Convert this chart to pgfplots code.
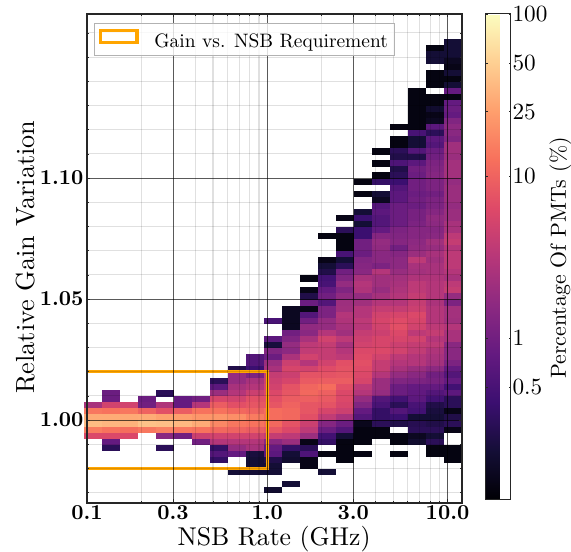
\documentclass[border=0pt]{standalone}
\usepackage{pgfplots}
\usepackage{graphicx}
\pgfplotsset{compat=1.18}
\pgfdeclareplotmark{cell}{\pgfpathrectangle{\pgfpoint{-9.15bp}{-3.15bp}}{\pgfpoint{18.3bp}{6.3bp}}\pgfusepathqfill}
\pgfplotsset{cell/.style={forget plot,scatter,only marks,mark=cell,scatter src=explicit,
  scatter/use mapped color={draw=none,fill=mapped color}}}
\newcommand{\cells}[2]{\addplot[cell] table[x expr=#1,y=y,meta expr=log10(\thisrow{m}),row sep=\\]{y m\\#2};}
\newcommand{\tb}[1]{\scalebox{2.14}{\bfseries #1}}
\newcommand{\tc}[1]{\scalebox{2.33}{#1}}
\begin{document}
\begin{tikzpicture}
\useasboundingbox (0,0) rectangle (571bp,552bp);
\begin{axis}[
  axis on top,clip mode=individual,
  at={(87bp,49bp)},anchor=south west,scale only axis,width=375bp,height=489bp,
  xmode=log,log basis x=10,xmin=0.1,xmax=12.03,ymin=0.9657,ymax=1.1678,
  xtick={0.1,0.3,1,3,10},xticklabels={\tb{0.1},\tb{0.3},\tb{1.0},\tb{3.0},\tb{10.0}},
  minor xtick={0.2,0.4,0.5,0.6,0.7,0.8,0.9,2,4,5,6,7,8,9},
  ytick={1,1.05,1.1},yticklabels={\tb{1.00},\tb{1.05},\tb{1.10}},
  minor ytick={0.97,0.98,0.99,1.01,1.02,1.03,1.04,1.06,1.07,1.08,1.09,1.11,1.12,1.13,1.14,1.15,1.16},
  grid=both,
  major grid style={black,opacity=0.65,line width=1bp},
  minor grid style={black,opacity=0.12,line width=1.1bp},
  axis line style={black!85,line width=1.4bp},
  tick style={black!85,line width=0.6bp},major tick length=3.5bp,minor tick length=2bp,
  tick align=inside,
  xticklabel style={yshift=1bp},
  xlabel={\scalebox{2.58}{NSB Rate (GHz)}},ylabel={\scalebox{2.63}{Relative Gain Variation}},
  every axis x label/.style={at={(axis description cs:0.499,-0.0745)},anchor=center},
  every axis y label/.style={at={(axis description cs:-0.165,0.503)},rotate=90,anchor=center},
  colormap={magma}{rgb255=(0,0,4) rgb255=(20,14,54) rgb255=(59,15,112) rgb255=(100,26,128)
    rgb255=(140,41,129) rgb255=(183,55,121) rgb255=(222,73,104) rgb255=(247,112,92)
    rgb255=(254,159,109) rgb255=(254,207,146) rgb255=(252,253,191)},
  point meta min=-1,point meta max=2,
  colorbar,
  colorbar style={
    at={(1.0627,1)},anchor=north west,width=25bp,height=486bp,scale only axis,
    ytick={-0.30103,0,1,1.39794,1.69897,2},yticklabels={\tc{0.5},\tc{1},\tc{10},\tc{25},\tc{50},\tc{100}},
    yticklabel pos=right,
    tick align=inside,major tick length=2bp,
    axis line style={black!85,line width=1bp},
    tick style={black!85,line width=0.5bp},
    yticklabel style={xshift=-1.5bp},
    ylabel={\scalebox{2.19}{Percentage Of PMTs (\%)}},
    every axis y label/.style={at={(axis description cs:3.0,0.498)},rotate=90,anchor=center},
  },
  legend style={at={(0.0187,0.9806)},anchor=north west,draw=black!30,line width=0.7bp,
    fill=white,fill opacity=0.8,draw opacity=1,text opacity=1,
    inner xsep=4.5bp,inner ysep=5bp,column sep=13.5bp},
  legend image code/.code={\draw[#1,line width=3.6bp] (0bp,-1.1bp) rectangle (36.5bp,10.6bp);},
  legend cell align=left,
]
\cells{0.1076}{1.0060 2.5\\1.0035 14\\1.0010 30\\0.9985 38\\0.9960 15\\0.9935 6\\}
\cells{0.1355}{1.0110 0.9\\1.0085 0.9\\1.0060 5\\1.0035 13\\1.0010 30\\0.9985 35\\0.9960 13\\0.9935 6\\0.9910 0.8\\0.9885 0.3\\}
\cells{0.1706}{1.0060 5\\1.0035 14\\1.0010 29\\0.9985 33\\0.9960 12\\0.9935 6\\}
\cells{0.2148}{1.0085 0.9\\1.0060 1\\1.0035 10\\1.0010 30\\0.9985 42\\0.9960 14\\}
\cells{0.2704}{1.0110 0.3\\1.0060 2.8\\1.0035 7\\1.0010 26\\0.9985 40\\0.9960 16\\0.9935 1.5\\0.9885 0.3\\}
\cells{0.3404}{1.0085 0.8\\1.0060 0.8\\1.0035 9\\1.0010 25\\0.9985 36\\0.9960 14\\0.9935 1\\}
\cells{0.4285}{1.0085 1\\1.0060 3\\1.0035 13\\1.0010 22\\0.9985 30\\0.9960 13\\0.9935 4.5\\0.9910 1\\}
\cells{0.5395}{1.0160 0.3\\1.0135 0.7\\1.0110 2\\1.0085 5.5\\1.0060 9\\1.0035 13\\1.0010 22\\0.9985 18\\0.9960 11\\0.9935 5\\0.9910 3\\0.9885 0.35\\0.9860 0.6\\0.9835 0.35\\}
\cells{0.6792}{1.0210 0.25\\1.0185 1.8\\1.0160 1.8\\1.0135 2.5\\1.0110 3\\1.0085 5\\1.0060 7\\1.0035 11\\1.0010 20\\0.9985 14\\0.9960 10\\0.9935 5\\0.9910 3\\0.9885 1.8\\0.9860 0.8\\0.9785 0.2\\}
\cells{0.8551}{1.0260 0.6\\1.0235 0.6\\1.0210 0.4\\1.0185 1.2\\1.0160 2.5\\1.0135 3\\1.0110 4.5\\1.0085 7\\1.0060 8\\1.0035 10\\1.0010 15\\0.9985 13\\0.9960 9\\0.9935 5\\0.9910 3\\0.9885 2.5\\0.9860 0.22\\0.9835 0.2\\0.9810 0.2\\0.9785 0.2\\}
\cells{1.0765}{1.0410 0.5\\1.0335 0.7\\1.0310 0.22\\1.0285 1.3\\1.0260 0.9\\1.0235 2\\1.0210 2.5\\1.0185 4\\1.0160 4.5\\1.0135 5\\1.0110 6\\1.0085 7\\1.0060 8\\1.0035 12\\1.0010 12\\0.9985 11\\0.9960 8\\0.9935 4\\0.9910 1.5\\0.9885 0.8\\0.9860 0.7\\0.9835 0.25\\0.9810 0.2\\0.9785 0.2\\0.9710 0.18\\}
\cells{1.355}{1.0460 0.15\\1.0435 0.15\\1.0410 0.15\\1.0385 0.15\\1.0360 1\\1.0335 1.3\\1.0310 1.8\\1.0285 1.6\\1.0260 2.6\\1.0235 4.5\\1.0210 5.5\\1.0185 4.5\\1.0160 5.5\\1.0135 7.5\\1.0110 8\\1.0085 9\\1.0060 10\\1.0035 11\\1.0010 11\\0.9985 7.5\\0.9960 6\\0.9935 3.5\\0.9910 2\\0.9885 0.35\\0.9860 0.2\\0.9835 0.18\\0.9735 0.2\\}
\cells{1.706}{1.0585 0.12\\1.0535 0.13\\1.0510 0.25\\1.0485 0.9\\1.0460 0.13\\1.0435 0.6\\1.0410 1\\1.0385 1.7\\1.0360 1.5\\1.0335 2.5\\1.0310 3.5\\1.0285 3.8\\1.0260 5\\1.0235 3\\1.0210 5\\1.0185 7.5\\1.0160 8.5\\1.0135 10.5\\1.0110 11\\1.0085 9.5\\1.0060 8\\1.0035 8\\1.0010 7\\0.9985 4.5\\0.9960 3.5\\0.9935 2\\0.9910 0.13\\0.9885 0.3\\0.9860 0.55\\0.9835 0.13\\0.9810 0.13\\}
\cells{2.148}{1.0760 0.12\\1.0660 0.13\\1.0635 0.2\\1.0610 0.25\\1.0585 0.45\\1.0560 0.5\\1.0535 0.8\\1.0510 1\\1.0485 0.6\\1.0460 1.2\\1.0435 1.2\\1.0410 1.8\\1.0385 1.8\\1.0360 3\\1.0335 5\\1.0310 4\\1.0285 4\\1.0260 4\\1.0235 5\\1.0210 6.5\\1.0185 7.5\\1.0160 9\\1.0135 12\\1.0110 9.5\\1.0085 8.5\\1.0060 7.5\\1.0035 5.5\\1.0010 3.8\\0.9985 1.4\\0.9960 0.9\\0.9935 0.45\\0.9910 0.35\\0.9860 0.12\\0.9785 0.2\\}
\cells{2.704}{1.0835 0.13\\1.0785 0.3\\1.0760 0.12\\1.0735 0.12\\1.0710 0.12\\1.0685 0.5\\1.0660 0.2\\1.0635 0.3\\1.0610 1\\1.0585 1.3\\1.0560 1.8\\1.0535 1.3\\1.0510 1.7\\1.0485 2.1\\1.0460 2.2\\1.0435 3\\1.0410 2.8\\1.0385 2.5\\1.0360 2.2\\1.0335 3.5\\1.0310 2.5\\1.0285 3\\1.0260 3.5\\1.0235 7\\1.0210 7.5\\1.0185 8\\1.0160 9\\1.0135 7\\1.0110 6\\1.0085 6\\1.0060 5.5\\1.0035 4.5\\1.0010 2.5\\0.9985 0.9\\0.9960 0.6\\0.9935 0.2\\0.9910 0.12\\0.9885 0.12\\0.9860 0.12\\0.9835 0.12\\}
\cells{3.404}{1.0985 0.12\\1.0935 0.12\\1.0860 0.2\\1.0835 0.4\\1.0810 0.2\\1.0785 0.4\\1.0760 0.4\\1.0735 1\\1.0710 1\\1.0685 0.9\\1.0660 1.3\\1.0635 1.4\\1.0610 1.5\\1.0585 2.5\\1.0560 3\\1.0535 2.8\\1.0510 1.8\\1.0485 2.2\\1.0460 3\\1.0435 3\\1.0410 3.5\\1.0385 3.2\\1.0360 4\\1.0335 4.5\\1.0310 5\\1.0285 6\\1.0260 6.5\\1.0235 7\\1.0210 6.5\\1.0185 6\\1.0160 5.5\\1.0135 3.5\\1.0110 3\\1.0085 1.8\\1.0060 1.3\\1.0035 0.8\\1.0010 0.6\\0.9985 0.14\\0.9960 0.12\\0.9935 0.12\\0.9910 0.12\\0.9860 0.12\\}
\cells{4.285}{1.1110 0.12\\1.1060 0.12\\1.1010 0.12\\1.0985 0.35\\1.0935 0.2\\1.0910 0.15\\1.0885 0.6\\1.0860 0.7\\1.0835 0.6\\1.0810 0.6\\1.0785 0.8\\1.0760 1.4\\1.0735 1.8\\1.0710 1.7\\1.0685 1.5\\1.0660 1.5\\1.0635 1.2\\1.0610 3\\1.0585 2.2\\1.0560 2.2\\1.0535 1.9\\1.0510 2.4\\1.0485 3\\1.0460 4\\1.0435 5\\1.0410 5.5\\1.0385 5\\1.0360 4.5\\1.0335 5.5\\1.0310 5.5\\1.0285 6\\1.0260 5\\1.0235 4\\1.0210 4\\1.0185 3\\1.0160 2\\1.0135 2\\1.0110 1.8\\1.0085 0.6\\1.0060 0.5\\1.0035 0.35\\1.0010 0.35\\0.9985 0.3\\0.9960 0.12\\0.9935 0.12\\}
\cells{5.395}{1.1210 0.12\\1.1160 0.12\\1.1135 0.12\\1.1110 0.3\\1.1085 0.25\\1.1060 0.55\\1.1035 0.25\\1.1010 0.3\\1.0985 0.4\\1.0960 0.6\\1.0935 0.7\\1.0910 0.7\\1.0885 0.9\\1.0860 0.9\\1.0835 0.9\\1.0810 0.9\\1.0785 1.2\\1.0760 1.3\\1.0735 1.4\\1.0710 1\\1.0685 1.4\\1.0660 1.6\\1.0635 1.6\\1.0610 1.9\\1.0585 2.3\\1.0560 2.5\\1.0535 2.7\\1.0510 3\\1.0485 3\\1.0460 4\\1.0435 5.5\\1.0410 6.5\\1.0385 7\\1.0360 6\\1.0335 5.5\\1.0310 4.5\\1.0285 5\\1.0260 3.5\\1.0235 3\\1.0210 2.5\\1.0185 1.8\\1.0160 1.3\\1.0135 0.9\\1.0110 0.9\\1.0085 0.45\\1.0060 0.3\\1.0035 0.6\\1.0010 0.4\\0.9985 0.25\\0.9935 0.12\\0.9910 0.12\\0.9860 0.12\\}
\cells{6.792}{1.1360 0.12\\1.1335 0.12\\1.1310 0.12\\1.1285 0.12\\1.1260 0.12\\1.1235 0.12\\1.1210 0.12\\1.1185 0.5\\1.1160 0.2\\1.1135 0.2\\1.1110 0.6\\1.1085 0.25\\1.1060 0.7\\1.1035 1\\1.1010 0.9\\1.0985 1\\1.0960 1\\1.0935 0.9\\1.0910 1\\1.0885 0.9\\1.0860 1.1\\1.0835 1.1\\1.0810 1.2\\1.0785 1.4\\1.0760 1.4\\1.0735 1.6\\1.0710 1.7\\1.0685 2\\1.0660 3.5\\1.0635 2.5\\1.0610 2.3\\1.0585 2.8\\1.0560 3.5\\1.0535 3.5\\1.0510 4\\1.0485 4\\1.0460 4.5\\1.0435 6\\1.0410 5.5\\1.0385 5\\1.0360 3.5\\1.0335 5\\1.0310 4\\1.0285 3.8\\1.0260 3\\1.0235 3\\1.0210 2\\1.0185 1.5\\1.0160 1.2\\1.0135 0.8\\1.0110 0.75\\1.0085 0.7\\1.0060 0.5\\1.0035 0.45\\1.0010 0.2\\0.9985 0.28\\0.9960 0.3\\0.9935 0.15\\0.9910 0.18\\}
\cells{8.551}{1.1535 0.12\\1.1510 0.2\\1.1485 0.2\\1.1435 0.12\\1.1410 0.12\\1.1385 0.12\\1.1335 0.12\\1.1310 0.12\\1.1285 0.18\\1.1260 0.13\\1.1235 0.15\\1.1210 0.7\\1.1185 0.3\\1.1160 0.7\\1.1135 0.6\\1.1110 0.9\\1.1085 1\\1.1060 1.2\\1.1035 1.3\\1.1010 1.4\\1.0985 1.2\\1.0960 1.2\\1.0935 1\\1.0910 1.2\\1.0885 1.2\\1.0860 1.4\\1.0835 1.7\\1.0810 1.6\\1.0785 1.4\\1.0760 1.5\\1.0735 2.2\\1.0710 1.9\\1.0685 2.5\\1.0660 2.2\\1.0635 2.5\\1.0610 2.5\\1.0585 2.8\\1.0560 3\\1.0535 3\\1.0510 3\\1.0485 2.6\\1.0460 3\\1.0435 3\\1.0410 3\\1.0385 3.5\\1.0360 4\\1.0335 3\\1.0310 3.5\\1.0285 2.8\\1.0260 2.5\\1.0235 2.3\\1.0210 1.6\\1.0185 1\\1.0160 1.1\\1.0135 0.8\\1.0110 0.6\\1.0085 0.45\\1.0060 0.25\\1.0035 0.22\\1.0010 0.2\\0.9985 0.25\\0.9960 0.3\\0.9935 0.2\\0.9910 0.3\\0.9885 0.12\\0.9860 0.12\\}
\cells{10.765}{1.1560 0.2\\1.1535 0.2\\1.1510 0.2\\1.1485 0.15\\1.1460 0.13\\1.1435 0.2\\1.1410 0.12\\1.1385 0.2\\1.1360 0.8\\1.1335 0.12\\1.1310 0.8\\1.1285 0.9\\1.1260 0.8\\1.1235 1.3\\1.1210 1.6\\1.1185 1.5\\1.1160 1.3\\1.1135 2.2\\1.1110 2.2\\1.1085 2\\1.1060 2.3\\1.1035 2.3\\1.1010 2.3\\1.0985 1.8\\1.0960 2\\1.0935 2\\1.0910 2\\1.0885 1.8\\1.0860 2\\1.0835 2\\1.0810 2.5\\1.0785 2.5\\1.0760 3.5\\1.0735 4\\1.0710 3\\1.0685 3.5\\1.0660 3.5\\1.0635 3.5\\1.0610 3\\1.0585 2.5\\1.0560 3.5\\1.0535 4\\1.0510 1.8\\1.0485 1.2\\1.0460 2.3\\1.0435 2.3\\1.0410 2.2\\1.0385 3\\1.0360 2.5\\1.0335 2.5\\1.0310 1.5\\1.0285 1.5\\1.0260 1.5\\1.0235 1.2\\1.0210 0.8\\1.0185 0.6\\1.0160 0.8\\1.0135 0.45\\1.0110 0.7\\1.0085 0.3\\1.0060 0.3\\1.0035 0.13\\1.0010 0.25\\0.9985 0.3\\0.9960 0.13\\0.9885 0.12\\0.9860 0.12\\0.9835 0.12\\}
\addplot[color={rgb,255:red,255;green,165;blue,0},line width=3.5bp,line join=miter]
  coordinates {(0.05,1.02)(1,1.02)(1,0.98)(0.05,0.98)};
\addlegendentry{\scalebox{1.95}{Gain vs. NSB Requirement}}
\end{axis}
\end{tikzpicture}
\end{document}
